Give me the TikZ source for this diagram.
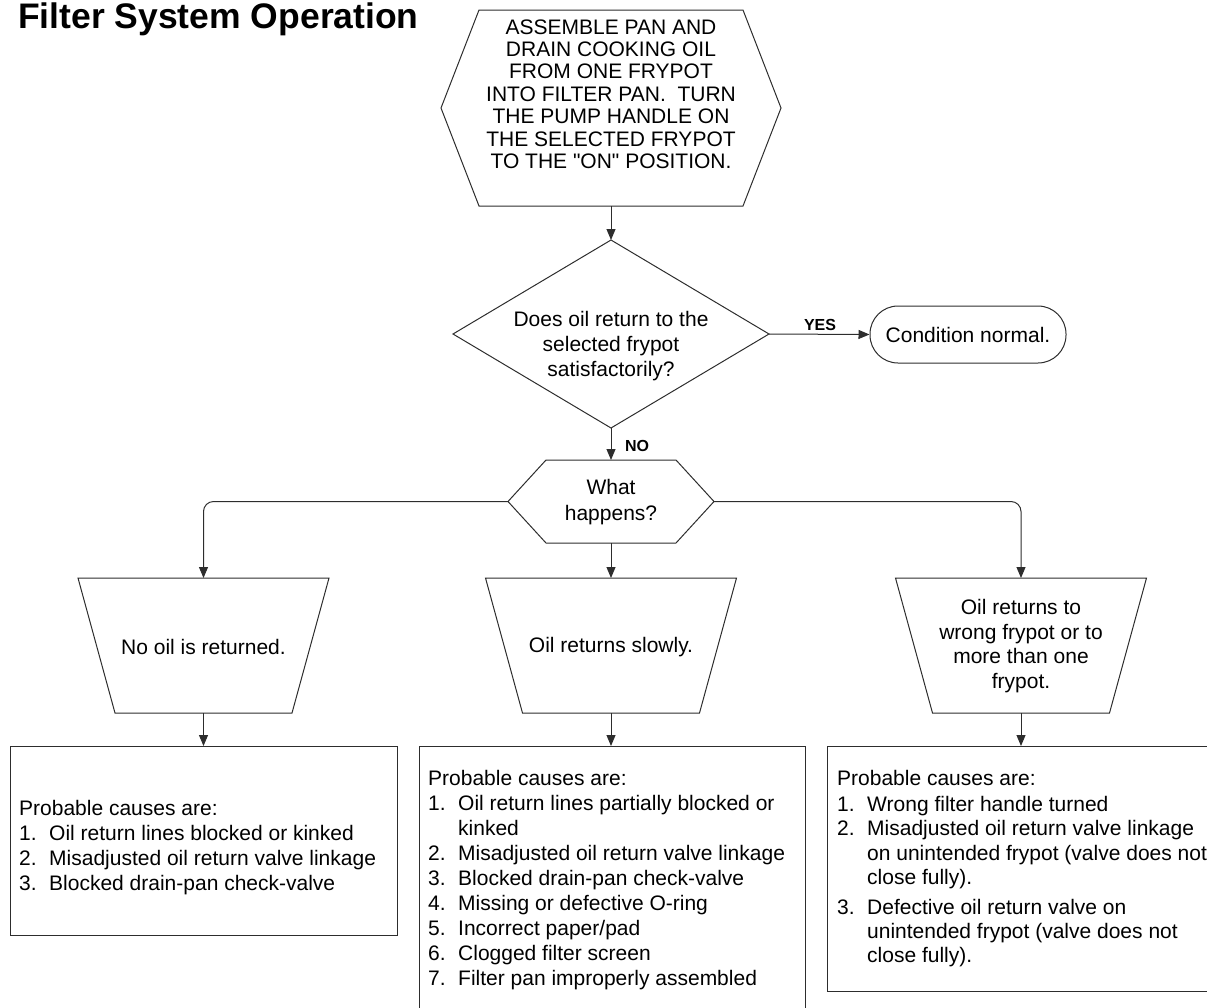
\documentclass[tikz,border=0pt]{standalone}
\usepackage{fontspec}
\setmainfont{Liberation Sans}[Ligatures=TeXOff]
\usetikzlibrary{arrows.meta}
\definecolor{lineC}{RGB}{45,45,45}
\begin{document}
\begin{tikzpicture}[x=1pt,y=-1pt,
  shp/.style={draw=lineC, line width=1pt, line join=miter},
  arr/.style={draw=lineC, line width=1pt, -{Triangle[length=11pt,width=9pt]}},
  body/.style={inner sep=0pt, align=center, font=\fontsize{21}{25}\selectfont},
  listtxt/.style={inner sep=0pt, align=left, anchor=north west, font=\fontsize{21}{25}\selectfont},
  lbl/.style={inner sep=0pt, font=\bfseries\fontsize{16}{18}\selectfont},
  term/.style={draw=lineC, line width=1pt, rounded corners=28pt, minimum width=196pt, minimum height=57pt, inner sep=0pt, font=\fontsize{21}{25}\selectfont}
]
\useasboundingbox (0,0) rectangle (1207,1007);
\clip (0,0) rectangle (1207,1007);

% title
\node[anchor=base west, inner sep=0pt, font=\bfseries\fontsize{35.5}{40}\selectfont] (title) at (18,28) {Filter System Operation};

% start hexagon
\coordinate (h1W) at (441,108);
\coordinate (h1E) at (781,108);
\coordinate (h1S) at (611,206);
\draw[shp] (h1W) -- (479,10) -- (743,10) -- (h1E) -- (743,206) -- (479,206) -- cycle;
\node[body, font=\fontsize{21}{22.4}\selectfont] (start) at (611,94) {ASSEMBLE PAN AND\\DRAIN COOKING OIL\\FROM ONE FRYPOT\\INTO FILTER PAN.\ \ TURN\\THE PUMP HANDLE ON\\THE SELECTED FRYPOT\\TO THE "ON" POSITION.};

% decision diamond
\coordinate (dN) at (611,240);
\coordinate (dE) at (769,334);
\coordinate (dS) at (611,428);
\coordinate (dW) at (453,334);
\draw[shp] (dN) -- (dE) -- (dS) -- (dW) -- cycle;
\node[body] (q1) at (611,346) {Does oil return to the\\selected frypot\\satisfactorily?};
\draw[arr] (h1S) -- (dN);

% terminal
\node[term] (ok) at (968,334.5) {Condition normal.};
\draw[arr] (dE) -- (ok.west);
\node[lbl] (yes) at (820,325) {YES};

% what happens hexagon
\coordinate (whN) at (611,460);
\coordinate (whS) at (611,543);
\coordinate (whW) at (508,501.5);
\coordinate (whE) at (714,501.5);
\draw[shp] (whW) -- (546,460) -- (676,460) -- (whE) -- (676,543) -- (546,543) -- cycle;
\node[body, font=\fontsize{21}{26}\selectfont] (wh) at (611,502) {What\\happens?};
\draw[arr] (dS) -- (whN);
\node[lbl] (no) at (637,446) {NO};

% trapezoids
\coordinate (t1N) at (203.5,578);
\coordinate (t1S) at (203.5,713);
\coordinate (t2N) at (611,578);
\coordinate (t2S) at (611,713);
\coordinate (t3N) at (1021,578);
\coordinate (t3S) at (1021,713);
\draw[shp] (78,578) -- (329,578) -- (292,713) -- (115,713) -- cycle;
\draw[shp] (485.5,578) -- (736.5,578) -- (699.5,713) -- (522.5,713) -- cycle;
\draw[shp] (895.5,578) -- (1146.5,578) -- (1109.5,713) -- (932.5,713) -- cycle;
\node[body] (c1) at (203.5,647) {No oil is returned.};
\node[body] (c2) at (611,647.5) {Oil returns slowly.\strut};
\node[body, font=\fontsize{21}{24.5}\selectfont] (c3) at (1021,646) {Oil returns to\\wrong frypot or to\\more than one\\frypot.};

\draw[arr, rounded corners=10pt] (whW) -| (t1N);
\draw[arr, rounded corners=10pt] (whE) -| (t3N);
\draw[arr] (whS) -- (t2N);

% cause boxes
\coordinate (b1N) at (203.5,746);
\coordinate (b2N) at (611,746);
\coordinate (b3N) at (1021,746);
\draw[shp] (10,746) rectangle (397,935);
\draw[shp] (419,746) rectangle (805,1030);
\draw[shp] (827,746) rectangle (1220,991);
\draw[arr] (t1S) -- (b1N);
\draw[arr] (t2S) -- (b2N);
\draw[arr] (t3S) -- (b3N);

\node[listtxt] (l1) at (19,800) {Probable causes are:\\
\makebox[30pt][l]{1.}Oil return lines blocked or kinked\\
\makebox[30pt][l]{2.}Misadjusted oil return valve linkage\\
\makebox[30pt][l]{3.}Blocked drain-pan check-valve};

\node[listtxt] (l2) at (428,770) {Probable causes are:\\
\makebox[30pt][l]{1.}Oil return lines partially blocked or\\
\hspace*{30pt}kinked\\
\makebox[30pt][l]{2.}Misadjusted oil return valve linkage\\
\makebox[30pt][l]{3.}Blocked drain-pan check-valve\\
\makebox[30pt][l]{4.}Missing or defective O-ring\\
\makebox[30pt][l]{5.}Incorrect paper/pad\\
\makebox[30pt][l]{6.}Clogged filter screen\\
\makebox[30pt][l]{7.}Filter pan improperly assembled};

\node[listtxt, font=\fontsize{21}{24.2}\selectfont] (l3) at (837,770) {Probable causes are:\\[2pt]
\makebox[30pt][l]{1.}Wrong filter handle turned\\
\makebox[30pt][l]{2.}Misadjusted oil return valve linkage\\
\hspace*{30pt}on unintended frypot (valve does not\\
\hspace*{30pt}close fully).\\[6pt]
\makebox[30pt][l]{3.}Defective oil return valve on\\
\hspace*{30pt}unintended frypot (valve does not\\
\hspace*{30pt}close fully).};
\end{tikzpicture}
\end{document}
